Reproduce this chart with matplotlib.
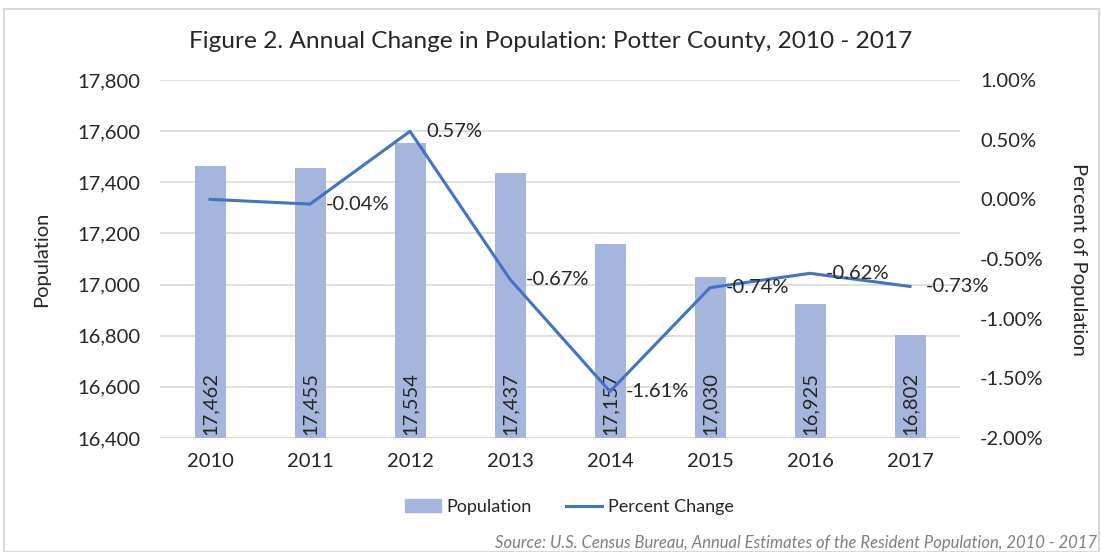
import numpy as np
import matplotlib.pyplot as plt
from matplotlib.patches import Rectangle
from matplotlib.lines import Line2D
from matplotlib.ticker import FuncFormatter

plt.rcParams['font.family'] = ['Lato', 'DejaVu Sans']

years = ['2010', '2011', '2012', '2013', '2014', '2015', '2016', '2017']
population = [17462, 17455, 17554, 17437, 17157, 17030, 16925, 16802]
pct_change = [0.00, -0.04, 0.57, -0.67, -1.61, -0.74, -0.62, -0.73]
pct_labels = ['', '-0.04%', '0.57%', '-0.67%', '-1.61%', '-0.74%', '-0.62%', '-0.73%']

bar_color = '#A6B5DB'
line_color = '#4472C4'
text_color = '#262626'
fs = 14.5

fig = plt.figure(figsize=(11.01, 5.52), dpi=100)
fig.patches.append(Rectangle((4 / 1101, 0), 1095 / 1101, 1 - 9 / 552, transform=fig.transFigure,
                             fill=False, edgecolor='#D9D9D9', linewidth=1.5))

ax = fig.add_axes([160 / 1101, 1 - 438 / 552, 800 / 1101, 358 / 552])
x = np.arange(len(years))

ax.bar(x, population, width=0.31, color=bar_color, zorder=2)
ax.set_ylim(16400, 17800)
ax.set_yticks(np.arange(16400, 17801, 200))
ax.yaxis.set_major_formatter(FuncFormatter(lambda v, p: f'{int(v):,}'))
ax.set_xlim(-0.5, len(years) - 0.5)
ax.set_xticks(x)
ax.set_xticklabels(years)
ax.grid(axis='y', color='#D9D9D9', linewidth=1.2, zorder=0)
for s in ax.spines.values():
    s.set_visible(False)
ax.tick_params(length=0, labelsize=fs, colors=text_color, pad=14)
ax.tick_params(axis='x', pad=11)
ax.set_ylabel('Population', fontsize=fs, color=text_color, labelpad=20)

for xi, v in zip(x, population):
    ax.text(xi, 16412, f'{v:,}', rotation=90, ha='center', va='bottom',
            fontsize=fs, color=text_color, zorder=4)

ax2 = ax.twinx()
ax2.plot(x, pct_change, color=line_color, linewidth=2.2, zorder=3)
ax2.set_ylim(-2.0, 1.0)
ax2.set_yticks(np.arange(-2.0, 1.01, 0.5))
ax2.yaxis.set_major_formatter(FuncFormatter(lambda v, p: f'{v:.2f}%'))
for s in ax2.spines.values():
    s.set_visible(False)
ax2.tick_params(length=0, labelsize=fs, colors=text_color, pad=14.5)
ax2.set_ylabel('Percent of Population', fontsize=fs, color=text_color,
               rotation=-90, labelpad=31)

for xi, v, lab in zip(x, pct_change, pct_labels):
    if lab:
        ax2.text(xi + 0.16, v, lab, ha='left', va='center', fontsize=fs,
                 color=text_color, zorder=5)

fig.text(0.5, 1 - 42 / 552, 'Figure 2. Annual Change in Population: Potter County, 2010 - 2017',
         ha='center', va='center', fontsize=17.6, color=text_color)

handles = [Rectangle((0, 0), 1, 1, color=bar_color),
           Line2D([0], [0], color=line_color, linewidth=2.2)]
fig.legend(handles, ['Population', 'Percent Change'], loc='center',
           bbox_to_anchor=(0.517, 1 - 507 / 552), ncol=2, frameon=False,
           fontsize=13, handlelength=2.0, handleheight=0.7, columnspacing=1.9,
           handletextpad=0.3, labelcolor=text_color)

fig.text(1097 / 1101, 1 - 543 / 552,
         'Source: U.S. Census Bureau, Annual Estimates of the Resident Population, 2010 - 2017',
         ha='right', va='center', fontsize=12, style='italic', color='#7F7F7F')

fig.savefig('out.png', dpi=100)
